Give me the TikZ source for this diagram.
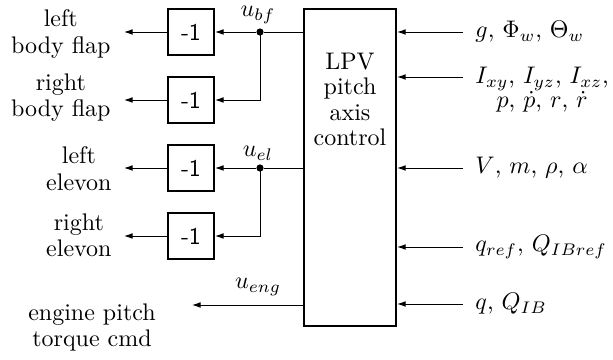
\documentclass[tikz,border=0pt]{standalone}
\usetikzlibrary{arrows.meta}
\begin{document}
\begin{tikzpicture}[x=0.41667pt,y=-0.41667pt,
  arr/.style={-{Latex[length=3.6pt,width=2.4pt]},line width=0.4pt},
  wire/.style={line width=0.4pt},
  gain/.style={draw,line width=0.8pt,minimum width=19.2pt,minimum height=19.2pt,inner sep=0pt,font=\sffamily},
  ctrlbox/.style={draw,line width=0.9pt,minimum width=38.3pt,minimum height=132pt,inner sep=0pt},
  lab/.style={inner sep=0pt,align=center,font=\fontsize{10pt}{11pt}\selectfont},
  dot/.style={circle,fill,inner sep=0pt,minimum size=3pt}]
\useasboundingbox (0,0) rectangle (613,360);
% main controller
\node[ctrlbox] (ctrl) at (350,167.5) {};
\node[lab,anchor=north,font=\fontsize{10pt}{10.6pt}\selectfont] (ctrltxt) at (350,52.6) {LPV\\pitch\\axis\\control};
% gain blocks
\node[gain] (g1) at (191,32) {-1};
\node[gain] (g2) at (191,100) {-1};
\node[gain] (g3) at (191,168) {-1};
\node[gain] (g4) at (191,236) {-1};
% branch points
\node[dot] (d1) at (260,32) {};
\node[dot] (d2) at (260,168) {};
\draw[wire] (ctrl.west |- d1) -- (d1);
\draw[wire] (ctrl.west |- d2) -- (d2);
\draw[arr] (d1) -- (g1.east);
\draw[arr] (d1.center) |- (g2.east);
\draw[arr] (d2) -- (g3.east);
\draw[arr] (d2.center) |- (g4.east);
\node[lab,anchor=base] (ubf) at (258,17) {$u_{bf}$};
\node[lab,anchor=base] (uel) at (258,157) {$u_{el}$};
% outputs
\coordinate (o1) at (124,32);
\coordinate (o2) at (124,100);
\coordinate (o3) at (124,168);
\coordinate (o4) at (124,236);
\draw[arr] (g1.west) -- (o1);
\draw[arr] (g2.west) -- (o2);
\draw[arr] (g3.west) -- (o3);
\draw[arr] (g4.west) -- (o4);
\node[lab,anchor=north east] (l1) at (111,9.3) {left\\body flap};
\node[lab,anchor=north east] (l2) at (111,73.3) {right\\body flap};
\node[lab,anchor=north east] (l3) at (112,146.6) {left\\elevon};
\node[lab,anchor=north east] (l4) at (112,213.3) {right\\elevon};
% engine
\coordinate (oe) at (192,305);
\draw[arr] (ctrl.west |- oe) -- (oe);
\node[lab,anchor=base] (ueng) at (258,289) {$u_{eng}$};
\node[lab,anchor=north] (leng) at (92,303.3) {engine pitch\\torque cmd};
% inputs
\coordinate (i1) at (463,32);
\coordinate (i2) at (463,77);
\coordinate (i3) at (463,168);
\coordinate (i4) at (463,247);
\coordinate (i5) at (463,304);
\draw[arr] (i1) -- (i1 -| ctrl.east);
\draw[arr] (i2) -- (i2 -| ctrl.east);
\draw[arr] (i3) -- (i3 -| ctrl.east);
\draw[arr] (i4) -- (i4 -| ctrl.east);
\draw[arr] (i5) -- (i5 -| ctrl.east);
\node[lab,anchor=west] (n1) at (475,32) {$g$, $\Phi_w$, $\Theta_w$};
\node[lab,anchor=north west] (n2) at (475,66.6) {$I_{xy}$, $I_{yz}$, $I_{xz}$,\\[-0.8pt]$p$, $\dot p$, $r$, $\dot r$};
\node[lab,anchor=west] (n3) at (475,168) {$V$, $m$, $\rho$, $\alpha$};
\node[lab,anchor=west] (n4) at (475,247) {$q_{ref}$, $Q_{IBref}$};
\node[lab,anchor=west] (n5) at (475,304) {$q$, $Q_{IB}$};
\end{tikzpicture}
\end{document}
